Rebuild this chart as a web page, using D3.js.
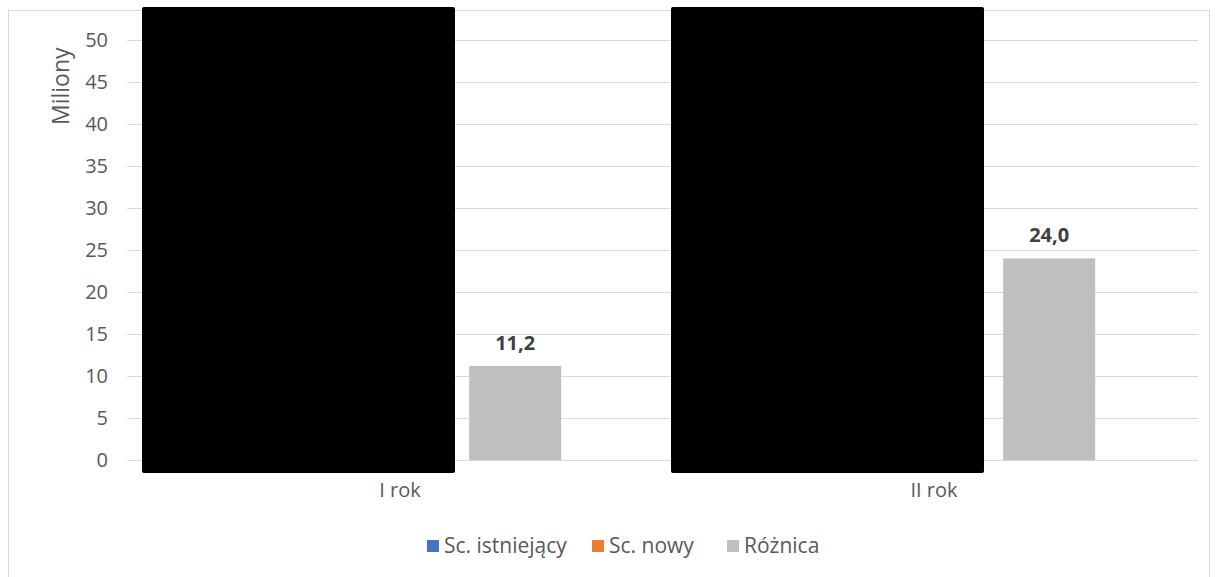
<!DOCTYPE html>
<html>
<head>
<meta charset="utf-8">
<script src="https://cdn.jsdelivr.net/npm/d3@7"></script>
<style>
  body { margin: 0; background: #fff; }
  svg text { font-family: "Open Sans", "Noto Sans", sans-serif; }
</style>
</head>
<body>
<script>
const categories = ['I rok', 'II rok']
const series = ['Sc. istniejący', 'Sc. nowy', 'Różnica']
const colors = ['#4472c4', '#ed7d31', '#bfbfbf']
// first two series are covered by black boxes in the source, values unknown
const istniejacy = [null, null]
const nowy = [null, null]
const roznica = [11.2, 24.0]
const yTicks = [0, 5, 10, 15, 20, 25, 30, 35, 40, 45, 50]

const width = 1215, height = 577
const margin = {top: 40, left: 136, right: 11, bottom: 117}
const gridRight = 1198

const svg = d3.select('body').append('svg')
  .attr('width', width)
  .attr('height', height)
  .attr('viewBox', '0,0,' + width + ',' + height)

// chart area border
svg.append('rect')
  .attr('x', 8.5).attr('y', 10.5)
  .attr('width', 1201).attr('height', 600)
  .attr('fill', '#fff')
  .attr('stroke', '#d9d9d9')

const y = d3.scaleLinear()
  .domain([0, 50])
  .range([height - margin.bottom, margin.top])

const x0 = d3.scaleBand()
  .domain(categories)
  .range([margin.left, width - margin.right])

const x1 = d3.scaleBand()
  .domain(series)
  .range([0, x0.bandwidth()])
  .paddingInner(0.18)
  .paddingOuter(0.97)

// gridlines + ticks
svg.append('g')
  .attr('transform', `translate(${margin.left},0)`)
  .call(d3.axisLeft(y)
    .tickValues(yTicks)
    .tickSize(-(gridRight - margin.left))
    .tickSizeOuter(0)
    .tickPadding(28))
  .call(g => g.select('.domain').remove())
  .call(g => g.selectAll('.tick line').attr('stroke', '#d9d9d9').attr('x1', -9))
  .call(g => g.selectAll('.tick text')
    .attr('fill', '#595959')
    .attr('font-size', 20))

svg.append('text')
  .attr('transform', `translate(69,${y(44.5)}) rotate(-90)`)
  .attr('text-anchor', 'middle')
  .attr('fill', '#595959')
  .attr('font-size', 23)
  .text('Miliony')

const rows = categories.map((c, i) => ({
  cat: c,
  values: [istniejacy[i], nowy[i], roznica[i]]
}))

const groups = svg.append('g')
  .selectAll('g').data(rows).enter().append('g')
  .attr('transform', d => `translate(${x0(d.cat)},0)`)

groups.selectAll('rect.bar')
  .data(d => d.values.map((v, j) => ({s: series[j], v, j})).filter(d => d.v != null))
  .enter().append('rect')
  .attr('class', 'bar')
  .attr('x', d => x1(d.s))
  .attr('width', x1.bandwidth())
  .attr('y', d => y(d.v))
  .attr('height', d => y(0) - y(d.v))
  .attr('fill', d => colors[d.j])

groups.selectAll('text.lbl')
  .data(d => d.values.map((v, j) => ({s: series[j], v})).filter(d => d.v != null && d.s == 'Różnica'))
  .enter().append('text')
  .attr('class', 'lbl')
  .attr('x', d => x1(d.s) + x1.bandwidth() / 2)
  .attr('y', d => y(d.v) - 16)
  .attr('text-anchor', 'middle')
  .attr('font-size', 20)
  .attr('font-weight', 'bold')
  .attr('fill', '#404040')
  .text(d => d3.format('.1f')(d.v).replace('.', ','))

// redaction boxes over the first two series (hand drawn in source, offsets differ a bit)
const redactOffset = [6, 1]
groups.append('rect')
  .attr('x', (d, i) => redactOffset[i])
  .attr('width', 313)
  .attr('y', 7)
  .attr('height', y(0) + 13 - 7)
  .attr('rx', 2)
  .attr('fill', '#000')

// category labels
svg.append('g')
  .selectAll('text').data(categories).enter().append('text')
  .attr('x', d => x0(d) + x0.bandwidth() / 2 - 3)
  .attr('y', 497)
  .attr('text-anchor', 'middle')
  .attr('fill', '#595959')
  .attr('font-size', 20)
  .text(d => d)

// legend
const legendX = [427, 592, 727]
const legend = svg.append('g')
  .selectAll('g').data(series).enter().append('g')
  .attr('transform', (d, i) => `translate(${legendX[i]},540)`)
legend.append('rect')
  .attr('width', 12).attr('height', 12)
  .attr('fill', (d, i) => colors[i])
legend.append('text')
  .attr('x', 17).attr('y', 13)
  .attr('fill', '#595959')
  .attr('font-size', 21)
  .text(d => d)
</script>
</body>
</html>
